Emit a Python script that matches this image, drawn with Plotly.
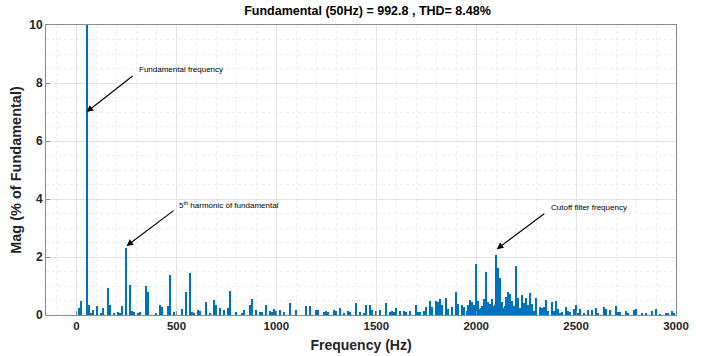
import plotly.graph_objects as go

# Spectrum bins (Hz) and magnitudes (% of fundamental)
freq_hz = [10, 20, 50, 60, 70, 80, 100, 120, 130, 160, 170, 190, 210, 220, 230, 250, 270, 280, 290, 310,
           320, 350, 360, 400, 420, 430, 460, 470, 490, 530, 550, 570, 580, 590, 610, 620, 650, 670, 690, 700,
           720, 740, 760, 770, 800, 830, 840, 870, 880, 900, 920, 930, 950, 970, 980, 990, 1000, 1020, 1040, 1070,
           1100, 1150, 1170, 1200, 1210, 1240, 1250, 1260, 1290, 1300, 1320, 1340, 1360, 1370, 1400, 1420, 1440, 1450, 1470, 1480,
           1500, 1520, 1550, 1570, 1580, 1590, 1600, 1620, 1640, 1650, 1670, 1700, 1710, 1720, 1740, 1750, 1770, 1780, 1800, 1810,
           1820, 1830, 1850, 1860, 1880, 1900, 1910, 1930, 1940, 1960, 1970, 1980, 1990, 2000, 2010, 2020, 2030, 2040, 2050, 2060,
           2070, 2080, 2090, 2100, 2110, 2120, 2130, 2140, 2150, 2160, 2170, 2180, 2190, 2200, 2210, 2220, 2230, 2240, 2250, 2260,
           2270, 2280, 2290, 2300, 2320, 2330, 2340, 2350, 2360, 2380, 2390, 2400, 2410, 2420, 2430, 2450, 2460, 2470, 2490, 2500,
           2510, 2520, 2540, 2560, 2580, 2600, 2610, 2640, 2650, 2670, 2700, 2710, 2720, 2750, 2760, 2790, 2800, 2830, 2850, 2880,
           2900, 2920, 2950, 2960, 2980, 2990,
           1955, 1965, 1975, 1985, 1995, 2005, 2015, 2025, 2035, 2045, 2055, 2065, 2075, 2085, 2095, 2105, 2115, 2125, 2135, 2145,
           2155, 2165, 2175, 2185, 2195, 2205, 2215, 2225, 2235, 2245, 2255, 2265, 2275, 2285, 2295]
mag_pct = [0.23, 0.48, 100.0, 0.34, 0.05, 0.17, 0.30, 0.08, 0.25, 0.93, 0.36, 0.08, 0.10, 0.08, 0.31, 2.32, 1.03, 0.15, 0.10, 0.08,
           0.10, 1.00, 0.80, 0.08, 0.33, 0.28, 0.31, 1.38, 0.10, 0.20, 0.80, 1.46, 0.10, 0.08, 0.17, 0.15, 0.44, 0.08, 0.52, 0.34,
           0.24, 0.17, 0.24, 0.82, 0.10, 0.08, 0.17, 0.34, 0.54, 0.17, 0.10, 0.10, 0.36, 0.15, 0.10, 0.20, 0.15, 0.17, 0.10, 0.40,
           0.17, 0.30, 0.32, 0.17, 0.17, 0.10, 0.15, 0.12, 0.17, 0.15, 0.25, 0.08, 0.15, 0.10, 0.40, 0.10, 0.08, 0.34, 0.33, 0.17,
           0.15, 0.17, 0.43, 0.10, 0.15, 0.12, 0.24, 0.15, 0.15, 0.10, 0.15, 0.34, 0.10, 0.12, 0.15, 0.29, 0.49, 0.29, 0.47, 0.45,
           0.55, 0.34, 0.58, 0.22, 0.28, 0.78, 0.38, 0.34, 0.28, 0.34, 0.52, 0.45, 0.34, 1.76, 0.50, 0.20, 0.30, 0.55, 1.47, 0.45,
           0.38, 0.55, 0.30, 2.07, 1.61, 1.29, 0.45, 0.25, 0.63, 0.79, 0.72, 0.50, 0.30, 1.70, 0.58, 0.25, 0.68, 0.40, 0.58, 0.36,
           0.77, 0.38, 0.15, 0.58, 0.29, 0.23, 0.29, 0.52, 0.14, 0.45, 0.14, 0.50, 0.20, 0.07, 0.10, 0.27, 0.14, 0.10, 0.20, 0.34,
           0.07, 0.20, 0.05, 0.17, 0.17, 0.24, 0.07, 0.27, 0.22, 0.17, 0.30, 0.10, 0.10, 0.14, 0.05, 0.17, 0.20, 0.07, 0.07, 0.15,
           0.22, 0.03, 0.05, 0.05, 0.13, 0.05,
           0.15, 0.20, 0.18, 0.22, 0.25, 0.30, 0.22, 0.25, 0.20, 0.28, 0.25, 0.30, 0.22, 0.30, 0.35, 0.40, 0.30, 0.28, 0.25, 0.30,
           0.25, 0.30, 0.22, 0.25, 0.28, 0.25, 0.20, 0.22, 0.18, 0.20, 0.15, 0.18, 0.15, 0.12, 0.10]

x_ticks = [0, 500, 1000, 1500, 2000, 2500, 3000]
y_ticks = [0, 2, 4, 6, 8, 10]
title_text = "Fundamental (50Hz) = 992.8 , THD= 8.48%"

FONT = "Liberation Sans, Arial, Helvetica, sans-serif"
BLUE = "#0072BD"

fig = go.Figure()
fig.add_trace(go.Bar(x=freq_hz, y=mag_pct, width=5.5, marker=dict(color=BLUE, line=dict(width=0)),
                     showlegend=False))

arrows = [
    # (head_x, head_y, tail_x, tail_y, text_x, text_y, text)
    (50, 7.0, 288, 8.28, 300, 8.45, "Fundamental frequency"),
    (250, 2.38, 493, 3.64, 503, 3.79, "5<sup>th</sup> harmonic of fundamental"),
    (2103, 2.27, 2348, 3.53, 2365, 3.70, "Cutoff filter frequency"),
]
for hx, hy, tx, ty, lx, ly, txt in arrows:
    fig.add_annotation(x=hx, y=hy, ax=tx, ay=ty, xref="x", yref="y", axref="x", ayref="y",
                       text="", showarrow=True, arrowhead=2, arrowsize=1.2, arrowwidth=1.1,
                       arrowcolor="black")
    fig.add_annotation(x=lx, y=ly, xref="x", yref="y", text=txt, showarrow=False,
                       xanchor="left", yanchor="middle",
                       font=dict(family=FONT, size=8, color="black"))

fig.update_layout(
    width=704, height=356,
    margin=dict(l=46, r=28, t=25, b=41, autoexpand=False),
    paper_bgcolor="white", plot_bgcolor="white",
    bargap=0,
    title=dict(text="<b>" + title_text + "</b>", x=0.522, xanchor="center", y=0.97, yanchor="middle",
               font=dict(family=FONT, size=12.5, color="black")),
    font=dict(family=FONT, color="#262626"),
)
fig.update_xaxes(
    automargin=False,
    range=[-153, 3000], tickvals=x_ticks, ticktext=["<b>%d</b>" % v for v in x_ticks],
    tickfont=dict(size=11.5, color="#262626"),
    title=dict(text="<b>Frequency (Hz)</b>", font=dict(size=14, color="#262626"), standoff=9),
    showline=True, linecolor="#8c8c8c", linewidth=1, mirror=True,
    ticks="inside", ticklen=4, tickcolor="#8c8c8c",
    showgrid=True, gridcolor="#e3e3e3", gridwidth=1,
    minor=dict(dtick=100, tick0=0, showgrid=True, gridcolor="#ececec", griddash="dot", ticks=""),
    zeroline=False,
)
fig.update_yaxes(
    automargin=False,
    range=[0, 10], tickvals=y_ticks, ticktext=["<b>%d</b>" % v for v in y_ticks],
    tickfont=dict(size=12, color="#262626"),
    title=dict(text="<b>Mag (% of Fundamental)</b>", font=dict(size=14.5, color="#262626"), standoff=4),
    showline=True, linecolor="#8c8c8c", linewidth=1, mirror=True,
    ticks="inside", ticklen=4, tickcolor="#8c8c8c",
    showgrid=True, gridcolor="#e3e3e3", gridwidth=1,
    minor=dict(dtick=0.5, tick0=0, showgrid=True, gridcolor="#ececec", griddash="dot", ticks=""),
    zeroline=False,
)

fig.write_html("out.html")
